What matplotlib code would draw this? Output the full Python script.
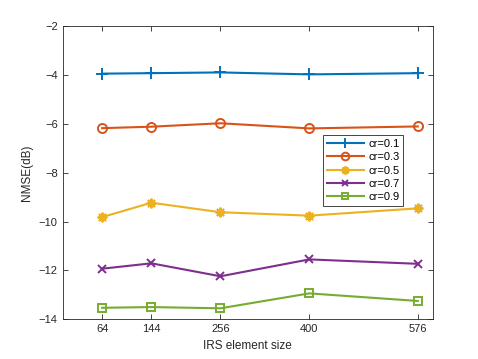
import matplotlib.pyplot as plt

irs_size = [64, 144, 256, 400, 576]
labels = ['cr=0.1', 'cr=0.3', 'cr=0.5', 'cr=0.7', 'cr=0.9']
nmse_01 = [-3.95, -3.93, -3.90, -3.98, -3.93]
nmse_03 = [-6.18, -6.12, -5.98, -6.19, -6.11]
nmse_05 = [-9.82, -9.23, -9.62, -9.76, -9.46]
nmse_07 = [-11.93, -11.71, -12.24, -11.55, -11.73]
nmse_09 = [-13.53, -13.50, -13.55, -12.94, -13.25]

series = [nmse_01, nmse_03, nmse_05, nmse_07, nmse_09]
colors = ['#0072BD', '#D95319', '#EDB120', '#7E2F8E', '#77AC30']
markers = ['+', 'o', (8, 2, 0), 'x', 's']
msizes = [8, 6.5, 7, 5.5, 5.5]

plt.rcParams['font.family'] = ['Liberation Sans', 'DejaVu Sans']
fig = plt.figure(figsize=(4.78, 3.59), dpi=100)
ax = fig.add_axes([0.131, 0.1106, 0.774, 0.817])

for y, c, m, ms, lab in zip(series, colors, markers, msizes, labels):
    ax.plot(irs_size, y, color=c, marker=m, markersize=ms, markerfacecolor='none',
            markeredgewidth=1.4, linewidth=1.5, label=lab)

ax.set_xlim(0, 600)
ax.set_ylim(-14, -2)
ax.set_xticks(irs_size)
ax.set_yticks(range(-14, -1, 2))
ax.set_xlabel('IRS element size', fontsize=8.5, color='#262626')
ax.set_ylabel('NMSE(dB)', fontsize=8.5, color='#262626')
ax.tick_params(direction='in', top=True, right=True, labelsize=8, colors='#262626',
               length=3.5, width=0.6)
for s in ax.spines.values():
    s.set_color('#262626')
    s.set_linewidth(0.6)

leg = ax.legend(loc='upper left', bbox_to_anchor=(0.703, 0.628), fontsize=8,
                frameon=True, fancybox=False, edgecolor='#262626', framealpha=1,
                handlelength=3.4, borderpad=0.35, labelspacing=0.3, handletextpad=0.35,
                borderaxespad=0, markerscale=0.85)
leg.get_frame().set_linewidth(0.6)

fig.savefig('out.png', dpi=100)
